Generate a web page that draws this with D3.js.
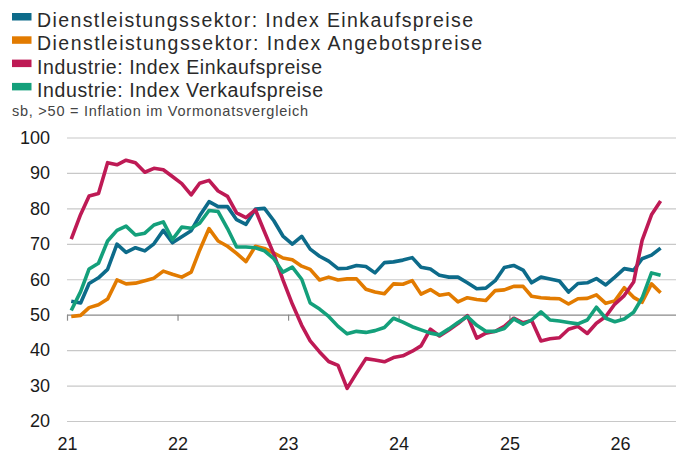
<!DOCTYPE html>
<html lang="de">
<head>
<meta charset="utf-8">
<script src="https://cdn.jsdelivr.net/npm/d3@7"></script>
<style>
  html, body { margin: 0; padding: 0; background: #fff; }
  svg { display: block; }
  .legend text { font-family: "Liberation Sans", Arial, sans-serif; font-size: 19.5px; fill: #2a2a2a; }
  .note { font-family: "Liberation Sans", Arial, sans-serif; font-size: 14.5px; fill: #444; }
  .axis text { font-family: "Liberation Sans", Arial, sans-serif; font-size: 18px; fill: #1a1a1a; }
  .grid line { stroke: #c8c8c8; stroke-width: 1.2; }
  .grid .domain { display: none; }
  .series { fill: none; stroke-width: 3.6; stroke-linejoin: round; stroke-linecap: butt; }
</style>
</head>
<body>
<svg id="chart"></svg>
<script>
// Einkaufs- und Verkaufspreisindizes (PMI), monatlich ab Jan 2021 bis Mai 2026

const START_MONTH = new Date(2021, 0, 15);

const LABELS = [
  "Dienstleistungssektor: Index Einkaufspreise",
  "Dienstleistungssektor: Index Angebotspreise",
  "Industrie: Index Einkaufspreise",
  "Industrie: Index Verkaufspreise"
];
const COLORS = ["#0d6b8a", "#e27b00", "#be1a55", "#14a07b"];

const dlEinkauf = [
  53.8, 53.3, 58.8, 60.4, 62.8, 69.9, 67.6, 68.9, 68.0, 70.0, 73.8, 70.3,
  72.0, 73.7, 77.9, 81.9, 80.5, 80.5, 76.8, 75.5, 79.8, 80.0, 76.5, 72.2,
  69.9, 72.1, 68.5, 66.5, 65.1, 63.0, 63.1, 63.9, 63.6, 61.8, 64.7, 64.9,
  65.4, 66.1, 63.4, 62.9, 61.1, 60.6, 60.6, 59.0, 57.3, 57.5, 59.6, 63.3,
  63.9, 62.6, 59.0, 60.6, 60.1, 59.5, 56.4, 58.8, 59.0, 60.2, 58.4, 60.6,
  63.0, 62.5, 65.8, 66.8, 68.8
];
const dlAngebot = [
  49.5, 49.8, 52.0, 52.8, 54.4, 59.8, 58.7, 58.9, 59.6, 60.3, 62.3, 61.4,
  60.6, 62.0, 68.2, 74.3, 70.8, 69.3, 67.3, 65.0, 69.3, 68.7, 67.4, 66.0,
  65.5, 63.7, 62.8, 59.8, 60.6, 59.8, 60.1, 60.1, 57.2, 56.4, 55.9, 58.7,
  58.6, 59.6, 55.8, 57.1, 55.5, 55.9, 53.6, 54.8, 54.3, 54.0, 56.8, 57.0,
  58.0, 58.0, 55.2, 54.8, 54.6, 54.5, 53.0, 54.5, 54.6, 55.6, 53.2, 53.9,
  57.6, 54.9, 53.5, 58.7, 56.2
];
const indEinkauf = [
  71.3, 78.3, 83.5, 84.2, 92.9, 92.3, 93.6, 92.9, 90.2, 91.3, 90.9, 89.0,
  87.0, 83.8, 87.1, 87.9, 84.9, 83.4, 78.7, 77.4, 79.6, 73.4, 67.1, 59.8,
  53.0, 47.0, 42.6, 39.5, 36.8, 35.7, 29.2, 33.5, 37.6, 37.2, 36.7, 37.9,
  38.4, 39.7, 41.2, 45.9, 44.0, 45.7, 47.5, 49.7, 43.4, 44.8, 45.3, 46.7,
  49.0, 47.7, 48.4, 42.6, 43.2, 43.5, 45.9, 46.7, 44.7, 47.6, 49.5, 53.0,
  55.4, 59.2, 71.0, 78.2, 82.1
];
const indVerkauf = [
  51.2, 56.5, 62.9, 64.5, 70.8, 73.8, 75.0, 72.5, 73.0, 75.3, 76.2, 71.2,
  74.7, 74.4, 75.8, 79.4, 79.1, 74.3, 69.1, 69.1, 68.9, 68.0, 65.8, 62.0,
  63.4, 60.0, 53.3, 51.6, 49.5, 46.7, 44.6, 45.3, 45.0, 45.5, 46.4, 49.0,
  47.9, 46.6, 45.7, 44.8, 44.3, 46.0, 47.8, 49.5, 47.0, 45.3, 45.3, 46.1,
  48.8, 47.3, 48.5, 50.8, 48.5, 48.2, 47.8, 47.4, 48.5, 52.1, 49.0, 48.0,
  48.8, 50.7, 54.7, 61.8, 61.1
];

const Y_TICKS = [20, 30, 40, 50, 60, 70, 80, 90, 100];
const NOTE = "sb, >50 = Inflation im Vormonatsvergleich";

const W = 676, H = 453;
const PLOT = { left: 67, right: 676, top: 137.5, bottom: 421 };
const LEGEND_WIDTHS = [436, 445, 285, 286];
const NOTE_WIDTH = 296;

const svg = d3.select("#chart").attr("width", W).attr("height", H);

const x = d3.scaleTime()
  .domain([new Date(2021, 0, 1), new Date(2026, 0, 1)])
  .range([PLOT.left, 620]);
const y = d3.scaleLinear().domain([20, 100]).range([PLOT.bottom, PLOT.top]);

// gridlines + y labels
const gy = svg.append("g")
  .attr("class", "axis grid")
  .attr("transform", `translate(${PLOT.left},0)`)
  .call(d3.axisLeft(y).tickValues(Y_TICKS).tickSize(-(PLOT.right - PLOT.left)).tickPadding(17));
gy.selectAll(".tick line").filter(d => d === 50).style("stroke", "#8a8a8a");

// year ticks on the 50 line
const years = x.ticks(d3.timeYear.every(1));
svg.append("g")
  .attr("transform", `translate(0,${y(50)})`)
  .call(d3.axisBottom(x).tickValues(years).tickSize(6).tickFormat(""))
  .call(g => g.select(".domain").remove())
  .call(g => g.selectAll(".tick line").attr("stroke", "#8a8a8a").attr("stroke-width", 1.2));

// year labels below plot
svg.append("g")
  .attr("class", "axis")
  .attr("transform", `translate(0,${PLOT.bottom})`)
  .call(d3.axisBottom(x).tickValues(years).tickSize(0).tickPadding(16).tickFormat(d3.timeFormat("%y")))
  .call(g => g.select(".domain").remove());

// series
const seriesData = [dlEinkauf, dlAngebot, indEinkauf, indVerkauf];
const line = d3.line()
  .x((d, i) => x(d3.timeMonth.offset(START_MONTH, i)))
  .y(d => y(d));

svg.append("g").selectAll("path")
  .data(seriesData)
  .join("path")
    .attr("class", "series")
    .attr("stroke", (d, i) => COLORS[i])
    .attr("d", line);

// legend
const legend = svg.append("g").attr("class", "legend");
const rows = legend.selectAll("g").data(LABELS).join("g")
  .attr("transform", (d, i) => `translate(12,${27 + i * 23.3})`);
rows.append("rect")
  .attr("x", 0).attr("y", -14).attr("width", 19.5).attr("height", 7.5)
  .attr("fill", (d, i) => COLORS[i]);
rows.append("text")
  .attr("x", 25).attr("y", 0)
  .attr("textLength", (d, i) => LEGEND_WIDTHS[i])
  .attr("lengthAdjust", "spacing")
  .text(d => d);

svg.append("text")
  .attr("class", "note")
  .attr("x", 12).attr("y", 116)
  .attr("textLength", NOTE_WIDTH)
  .attr("lengthAdjust", "spacing")
  .text(NOTE);
</script>
</body>
</html>
